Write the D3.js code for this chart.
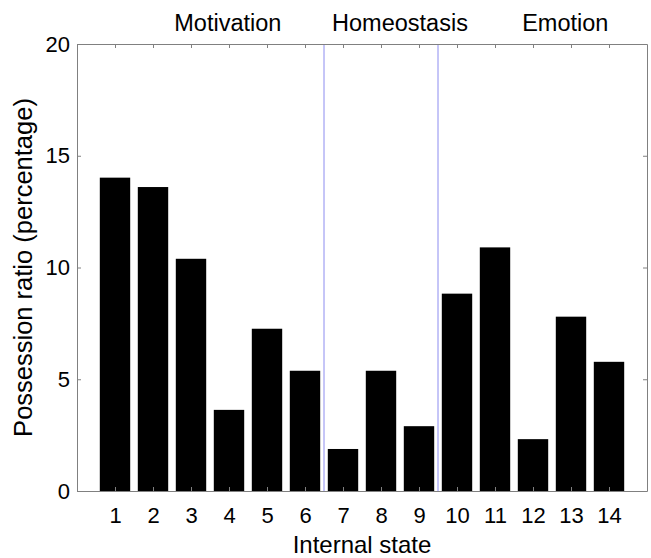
<!DOCTYPE html>
<html>
<head>
<meta charset="utf-8">
<title>Possession ratio</title>
<style>
  body { margin: 0; background: #fff; }
  text { font-family: "Liberation Sans", Arial, sans-serif; fill: #000; }
</style>
</head>
<body>
<div id="chart"></div>
<script src="https://d3js.org/d3.v7.min.js"></script>
<script>
// data
const states = [1, 2, 3, 4, 5, 6, 7, 8, 9, 10, 11, 12, 13, 14];
const ratios = [14.02, 13.6, 10.39, 3.63, 7.26, 5.38, 1.88, 5.38, 2.9, 8.83, 10.9, 2.32, 7.8, 5.78];
const yTicks = [0, 5, 10, 15, 20];
const groupNames = ['Motivation', 'Homeostasis', 'Emotion'];
const groupLabelX = [3.97, 8.5, 12.85];
const dividers = [6.5, 9.5];

const width = 651;
const height = 558;
const margin = { top: 44, right: 4, bottom: 67, left: 77 };

const svg = d3.select('#chart')
  .append('svg')
  .attr('width', width)
  .attr('height', height);

const x = d3.scaleLinear()
  .domain([0, 15])
  .range([margin.left, width - margin.right]);

const y = d3.scaleLinear()
  .domain([0, 20])
  .range([height - margin.bottom, margin.top]);

const barW = x(0.8) - x(0);

// bars
svg.append('g')
  .selectAll('rect')
  .data(states)
  .join('rect')
    .attr('x', (d) => x(d) - barW / 2)
    .attr('y', (d, i) => y(ratios[i]))
    .attr('width', barW)
    .attr('height', (d, i) => y(0) - y(ratios[i]))
    .attr('fill', '#000');

// divider lines between groups
svg.append('g')
  .selectAll('line')
  .data(dividers)
  .join('line')
    .attr('x1', (d) => x(d))
    .attr('x2', (d) => x(d))
    .attr('y1', y(0))
    .attr('y2', y(20))
    .attr('stroke', '#8c8cf0')
    .attr('stroke-width', 1);

function styleAxis(g) {
  g.selectAll('.domain').attr('stroke', '#808080');
  g.selectAll('.tick line').attr('stroke', '#808080');
  g.selectAll('.tick text')
    .attr('font-size', '22px')
    .attr('font-family', '"Liberation Sans", Arial, sans-serif');
}

svg.append('g')
  .attr('transform', `translate(0,${y(0)})`)
  .call(d3.axisBottom(x).tickValues(states).tickSizeInner(-4).tickSizeOuter(0).tickPadding(16))
  .call(styleAxis);

svg.append('g')
  .attr('transform', `translate(0,${y(20)})`)
  .call(d3.axisTop(x).tickValues(states).tickSizeInner(-4).tickSizeOuter(0).tickFormat(''))
  .call(styleAxis);

svg.append('g')
  .attr('transform', `translate(${x(0)},0)`)
  .call(d3.axisLeft(y).tickValues(yTicks).tickSizeInner(-4).tickSizeOuter(0).tickPadding(7))
  .call(styleAxis);

svg.append('g')
  .attr('transform', `translate(${x(15)},0)`)
  .call(d3.axisRight(y).tickValues(yTicks).tickSizeInner(-4).tickSizeOuter(0).tickFormat(''))
  .call(styleAxis);

// group labels above the plot
svg.append('g')
  .selectAll('text')
  .data(groupNames)
  .join('text')
    .attr('x', (d, i) => x(groupLabelX[i]))
    .attr('y', 31)
    .attr('text-anchor', 'middle')
    .attr('font-size', '23.5px')
    .text((d) => d);

// axis titles
svg.append('text')
  .attr('x', (x(0) + x(15)) / 2)
  .attr('y', 553)
  .attr('text-anchor', 'middle')
  .attr('font-size', '24px')
  .text('Internal state');

svg.append('text')
  .attr('transform', `translate(32,${(y(0) + y(20)) / 2}) rotate(-90)`)
  .attr('text-anchor', 'middle')
  .attr('font-size', '25.5px')
  .text('Possession ratio (percentage)');
</script>
</body>
</html>
